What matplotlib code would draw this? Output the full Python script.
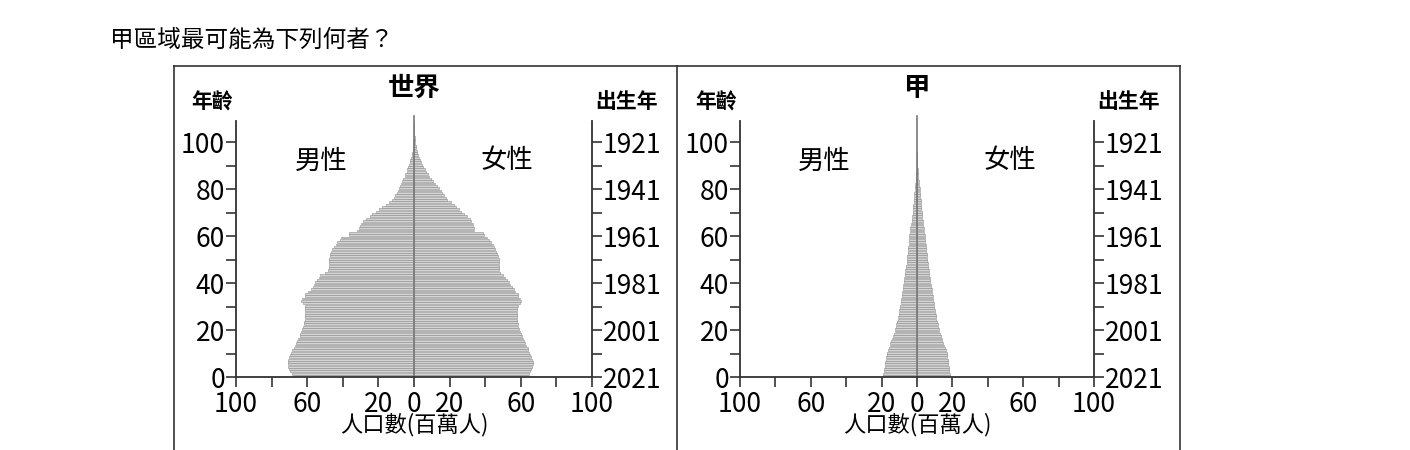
import matplotlib
matplotlib.use('Agg')
import matplotlib.pyplot as plt
from matplotlib.lines import Line2D
from matplotlib.ticker import MultipleLocator, FixedLocator

plt.rcParams['font.family'] = ['Noto Sans CJK TC', 'DejaVu Sans']

# population by single year of age, millions
world_male = [
    67.6, 68.5, 69.5, 70.5, 70.8, 70.9, 70.8, 70.6, 70.3, 69.8,
    69.0, 68.3, 67.5, 66.8, 66.2, 65.7, 65.0, 64.3, 63.8, 63.4,
    63.0, 62.5, 62.0, 61.7, 61.5, 61.4, 61.3, 61.2, 61.1, 61.0,
    61.0, 62.5, 63.3, 62.8, 61.5, 61.0, 59.5, 58.0, 57.0, 56.0,
    55.4, 54.5, 53.5, 52.6, 50.0, 48.3, 48.0, 47.8, 47.7, 47.6,
    47.5, 47.3, 47.0, 46.5, 45.8, 45.0, 44.0, 43.0, 41.3, 41.0,
    36.6, 36.3, 32.0, 31.0, 30.5, 30.0, 28.5, 27.0, 25.0, 23.5,
    21.6, 19.8, 17.8, 16.0, 14.0, 12.2, 11.5, 10.8, 9.8, 9.0,
    8.5, 7.8, 7.2, 6.5, 5.9, 5.3, 4.8, 4.2, 3.7, 3.2,
    2.8, 2.4, 2.0, 1.6, 1.3, 1.0, 0.8, 0.6, 0.5, 0.4,
    0.3, 0.25, 0.2, 0.15, 0.1, 0.1, 0.08, 0.06, 0.05]
world_female = [
    63.8, 64.5, 65.3, 66.0, 66.5, 66.7, 66.6, 66.3, 65.9, 65.4,
    64.8, 64.3, 63.8, 63.2, 62.6, 62.0, 61.3, 60.6, 60.0, 59.3,
    58.8, 58.5, 58.2, 58.0, 57.8, 57.7, 57.7, 57.8, 57.9, 58.0,
    58.2, 59.3, 60.0, 59.5, 58.5, 58.2, 57.0, 56.0, 55.0, 54.2,
    53.5, 52.0, 51.0, 49.8, 48.5, 47.9, 47.8, 47.7, 47.6, 47.5,
    47.5, 47.3, 46.8, 46.2, 45.6, 45.0, 44.2, 43.3, 42.3, 41.0,
    39.4, 38.5, 33.8, 33.6, 33.4, 33.2, 32.2, 31.2, 30.0, 28.2,
    26.3, 25.0, 23.7, 22.5, 20.6, 18.8, 17.8, 16.8, 15.8, 14.9,
    14.0, 12.8, 11.7, 10.6, 9.5, 8.5, 7.6, 6.8, 6.0, 5.3,
    4.7, 4.1, 3.5, 2.9, 2.4, 1.9, 1.5, 1.2, 0.9, 0.7,
    0.6, 0.45, 0.35, 0.25, 0.2, 0.15, 0.1, 0.08, 0.06]
jia_male = [
    19.3, 19.0, 18.8, 18.5, 18.3, 18.0, 17.8, 17.5, 17.3, 17.1,
    16.9, 16.5, 16.0, 15.5, 15.0, 14.5, 14.0, 13.5, 13.0, 12.6,
    12.2, 11.9, 11.6, 11.3, 11.0, 10.7, 10.4, 10.1, 9.9, 9.7,
    9.5, 9.3, 9.1, 8.9, 8.7, 8.5, 8.3, 8.1, 7.9, 7.7,
    7.5, 7.3, 7.1, 6.9, 6.7, 6.5, 6.3, 6.1, 5.9, 5.7,
    5.6, 5.5, 5.3, 5.2, 5.0, 4.9, 4.8, 4.6, 4.5, 4.4,
    4.3, 4.1, 3.9, 3.7, 3.5, 3.3, 3.1, 2.9, 2.7, 2.5,
    2.4, 2.3, 2.1, 2.0, 1.9, 1.8, 1.7, 1.6, 1.5, 1.4,
    1.3, 1.1, 0.9, 0.8, 0.6, 0.5, 0.4, 0.3, 0.2, 0.15,
    0.1, 0.08, 0.06, 0.04, 0.03, 0.02]
jia_female = [
    18.7, 18.5, 18.3, 18.1, 17.9, 17.7, 17.5, 17.3, 17.1, 16.9,
    16.7, 16.3, 15.9, 15.4, 14.9, 14.4, 13.9, 13.4, 13.0, 12.6,
    12.2, 11.9, 11.6, 11.3, 11.0, 10.7, 10.5, 10.2, 10.0, 9.8,
    9.6, 9.4, 9.2, 9.0, 8.8, 8.6, 8.4, 8.2, 8.0, 7.8,
    7.6, 7.4, 7.2, 7.0, 6.8, 6.6, 6.4, 6.2, 6.0, 5.8,
    5.7, 5.6, 5.4, 5.3, 5.1, 5.0, 4.9, 4.7, 4.6, 4.5,
    4.4, 4.2, 4.0, 3.8, 3.6, 3.4, 3.2, 3.0, 2.8, 2.7,
    2.6, 2.4, 2.3, 2.2, 2.1, 2.0, 1.9, 1.8, 1.7, 1.6,
    1.5, 1.3, 1.1, 0.9, 0.7, 0.6, 0.5, 0.4, 0.3, 0.2,
    0.15, 0.1, 0.08, 0.05, 0.04, 0.03]

age_ticks = [0, 20, 40, 60, 80, 100]
birth_labels = ['2021', '2001', '1981', '1961', '1941', '1921']
x_ticks = [-100, -60, -20, 0, 20, 60, 100]

W, H = 1410, 450
fig = plt.figure(figsize=(W / 100, H / 100), dpi=100)


def px(x, y):
    return x / W, 1 - y / H


def draw_panel(left_px, right_px, title, male, female):
    x0, y0 = px(left_px, 377)
    x1, y1 = px(right_px, 121)
    ax = fig.add_axes([x0, y0, x1 - x0, y1 - y0])
    ax.barh(list(range(len(male))), [-v for v in male], height=0.78, align='edge',
            color='#d4d4d4', edgecolor='#8a8a8a', linewidth=0.4)
    ax.barh(list(range(len(female))), female, height=0.78, align='edge',
            color='#d4d4d4', edgecolor='#8a8a8a', linewidth=0.4)
    ax.plot([0, 0], [0, 111], color='#777777', lw=1.2, clip_on=False)
    ax.set_xlim(-100, 100)
    ax.set_ylim(0, 109)
    ax.spines['top'].set_visible(False)
    for s in ['left', 'right', 'bottom']:
        ax.spines[s].set_linewidth(1.3)
        ax.spines[s].set_color('#333333')

    ax.xaxis.set_major_locator(FixedLocator(x_ticks))
    ax.xaxis.set_minor_locator(MultipleLocator(20))
    ax.set_xticklabels([str(abs(t)) for t in x_ticks])
    ax.yaxis.set_major_locator(FixedLocator(age_ticks))
    ax.yaxis.set_minor_locator(MultipleLocator(10))
    ax.tick_params(axis='both', which='both', direction='out', length=7,
                   width=1.2, color='#333333', labelsize=19, pad=1)
    ax.tick_params(axis='x', pad=3)
    ax.tick_params(axis='y', which='both', right=True)

    ax2 = ax.twinx()
    ax2.set_ylim(0, 109)
    ax2.yaxis.set_major_locator(FixedLocator(age_ticks))
    ax2.yaxis.set_minor_locator(MultipleLocator(10))
    ax2.set_yticklabels(birth_labels)
    ax2.tick_params(axis='y', which='both', direction='out', length=7,
                    width=1.2, color='#333333', labelsize=19, pad=1)
    for s in ax2.spines.values():
        s.set_visible(False)

    ax.set_xlabel('人口數(百萬人)', fontsize=16, fontweight='medium', labelpad=-4)

    cx = (left_px + right_px) / 2
    fig.text(*px(cx, 88), title, fontsize=19, fontweight='bold', ha='center', va='center')
    fig.text(*px(left_px - 24, 102), '年齡', fontsize=15, fontweight='bold', ha='center', va='center')
    fig.text(*px(right_px + 35, 102), '出生年', fontsize=15, fontweight='bold', ha='center', va='center')
    fig.text(*px(cx - 93, 161), '男性', fontsize=19, fontweight='medium', ha='center', va='center')
    fig.text(*px(cx + 93, 161), '女性', fontsize=19, fontweight='medium', ha='center', va='center')


draw_panel(236, 592, '世界', world_male, world_female)
draw_panel(740, 1094, '甲', jia_male, jia_female)

# frame boxes around the two panels
for xs, ys in [([174, 1180], [66, 66]), ([174, 174], [66, 450]),
               ([677, 677], [66, 450]), ([1180, 1180], [66, 450])]:
    fig.add_artist(Line2D([x / W for x in xs], [1 - y / H for y in ys],
                          color='#333333', lw=1.2))

fig.text(*px(110, 40), '甲區域最可能為下列何者？', fontsize=17, ha='left', va='center')

fig.savefig('out.png', dpi=100)
